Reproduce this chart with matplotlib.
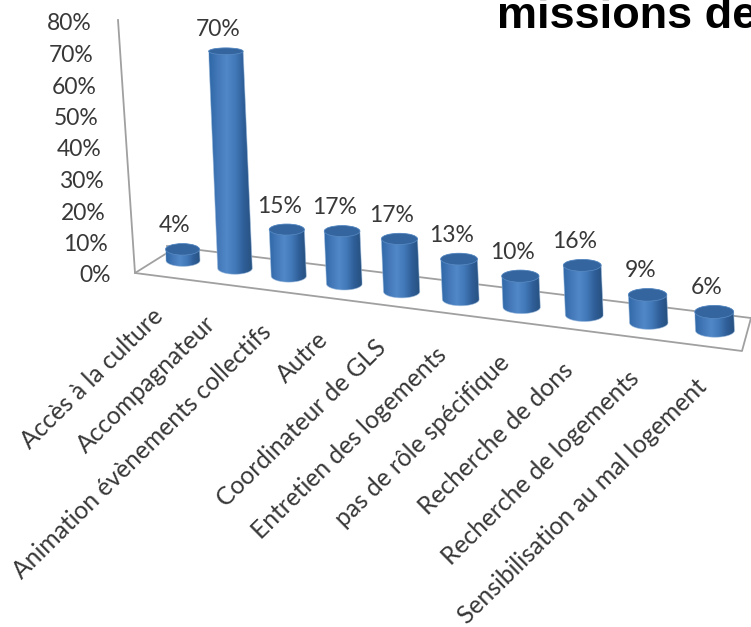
import numpy as np
import matplotlib
matplotlib.use("Agg")
import matplotlib.pyplot as plt
from matplotlib.patches import Polygon, Ellipse
from matplotlib.colors import LinearSegmentedColormap

categories = ["Accès à la culture", "Accompagnateur", "Animation évènements collectifs",
              "Autre", "Coordinateur de GLS", "Entretien des logements",
              "pas de rôle spécifique", "Recherche de dons", "Recherche de logements",
              "Sensibilisation au mal logement"]
values = [3.6, 70, 15, 17, 17, 13, 10, 16, 9, 6]
y_ticks = [0, 10, 20, 30, 40, 50, 60, 70, 80]

fig = plt.figure(figsize=(7.51, 6.27), dpi=100)
ax = fig.add_axes([0, 0, 1, 1])
ax.set_xlim(0, 751); ax.set_ylim(627, 0); ax.axis("off")

FONT = "Lato"
TXT = "#383838"
def project(i, v):
    """category position i, value v -> page position (oblique projection)"""
    h = 3.1 * v
    x = 183 + 51.1 * i + 0.89 * i * i - 0.042 * h
    y = 260.5 + 7.78 * i - h
    return x, y

def cyl_width(i):
    return 34 + 0.55 * i

def ell_h(y):
    return 5.5 + 0.024 * y

# floor and wall
g = "#a0a0a0"
ax.plot([118, 135, 167], [20, 273, 253], color=g, lw=1.3, zorder=1)
ax.plot([167, 751], [246, 318], color=g, lw=1.3, zorder=1)
ax.plot([135, 742, 751], [273, 351, 318], color=g, lw=1.3, zorder=1)

# axis labels
for t in y_ticks:
    ypx = 276 - t * 3.15
    ax.text(110.5 - t * 0.2375, ypx, f"{t}%", ha="right", va="center", family=FONT,
            fontsize=16.5, color=TXT)

cmap = LinearSegmentedColormap.from_list("cyl", ["#2f68a8", "#4478b8", "#5088c8", "#4279b8", "#2f5e98", "#26507f"])
grad = np.linspace(0, 1, 64).reshape(1, -1)

for i, (c, v) in enumerate(zip(categories, values)):
    w = cyl_width(i)
    bx, by = project(i, 0)
    tx, ty = project(i, v)
    hb, ht = ell_h(by), ell_h(ty)
    th = np.linspace(0, np.pi, 40)
    top_x = tx + w / 2 * np.cos(th)
    top_y = ty - ht / 2 * np.sin(th)
    bot_x = bx - w / 2 * np.cos(th)
    bot_y = by + hb / 2 * np.sin(th)
    verts = np.column_stack([np.r_[top_x, bot_x], np.r_[top_y, bot_y]])
    body = Polygon(verts, closed=True, fc="none", ec="none", zorder=3 + i)
    ax.add_patch(body)
    im = ax.imshow(grad, cmap=cmap, extent=[min(tx, bx) - w / 2, max(tx, bx) + w / 2, by + hb, ty - ht],
                   aspect="auto", zorder=3 + i, interpolation="bilinear")
    im.set_clip_path(body)
    ax.add_patch(Polygon(verts, closed=True, fc="none", ec="#9dbbdd", lw=0.6, alpha=0.6, zorder=3.2 + i))
    ax.add_patch(Ellipse((tx, ty), w, ht, fc="#34659f", ec="#5a8cc4", lw=0.5, zorder=3.4 + i))
    ax.text(tx - 7.5, ty - ht / 2 - 18, f"{v:.0f}%", ha="center", va="center", family=FONT,
            fontsize=16.5, color=TXT, zorder=20)
    ax.text(bx - 24 + 1.3 * i, by + 52, c, rotation=44.5, rotation_mode="anchor", ha="right", va="center",
            family=FONT, fontsize=17.7, color=TXT, zorder=20)

ax.set_xlim(0, 751); ax.set_ylim(627, 0)
ax.text(497, 28.5, "missions de", family="Liberation Sans", fontweight="bold", fontsize=32.5,
        color="black", ha="left", va="baseline", clip_on=False)
fig.savefig("out.png", dpi=100)
